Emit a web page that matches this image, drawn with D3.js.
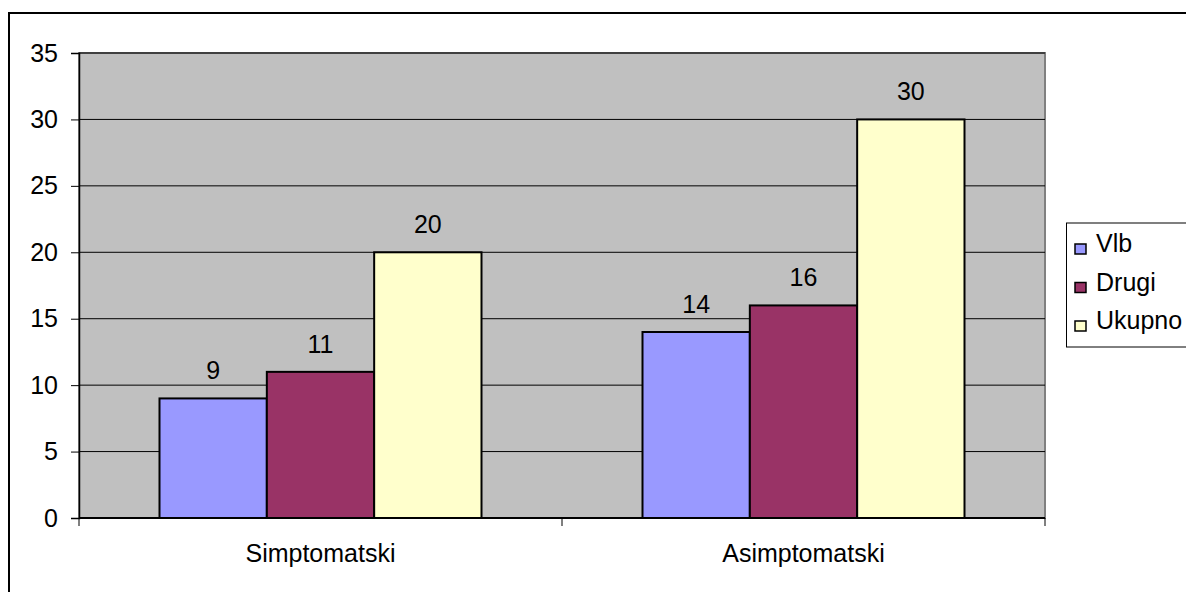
<!DOCTYPE html>
<html><head><meta charset="utf-8">
<script src="https://cdn.jsdelivr.net/npm/d3@7"></script>
<style>body{margin:0;background:#fff;} svg{display:block;} text{font-family:"Liberation Sans",Arial,sans-serif;fill:#000;}</style>
</head><body>
<svg id="c" width="1186" height="592"></svg>
<script>
const categories = ["Simptomatski", "Asimptomatski"];
const seriesNames = ["Vlb", "Drugi", "Ukupno"];
const seriesColors = ["#9999FF", "#993366", "#FFFFCC"];
const vlb = [9, 14];
const drugi = [11, 16];
const ukupno = [20, 30];
const yTicks = [0, 5, 10, 15, 20, 25, 30, 35];

const seriesValues = [vlb, drugi, ukupno];
const svg = d3.select("#c");
const fs = 25;

// outer border
svg.append("rect").attr("x", 9).attr("y", 13).attr("width", 1250).attr("height", 650)
  .attr("fill", "#fff").attr("stroke", "#000").attr("stroke-width", 2);

const pL = 79, pR = 1045, pT = 53, pB = 518;
const x0 = d3.scaleBand().domain(categories).range([pL, pR]).paddingInner(0).paddingOuter(0);
const x1 = d3.scaleBand().domain(seriesNames).range([0, x0.bandwidth()]).paddingInner(0).paddingOuter(0.75);
const y = d3.scaleLinear().domain([0, 35]).range([pB, pT]);

// plot background
svg.append("rect").attr("x", pL).attr("y", pT).attr("width", pR - pL).attr("height", pB - pT)
  .attr("fill", "#C0C0C0").attr("stroke", "#808080").attr("stroke-width", 2);

// gridlines
svg.append("g").selectAll("line").data(yTicks.filter(d => d > 0)).join("line")
  .attr("x1", pL).attr("x2", pR).attr("y1", d => y(d)).attr("y2", d => y(d))
  .attr("stroke", "#000").attr("stroke-width", 1);

// bars
const groups = svg.append("g").selectAll("g").data(categories).join("g")
  .attr("transform", c => `translate(${x0(c)},0)`);
groups.each(function(c, ci) {
  const g = d3.select(this);
  seriesNames.forEach((s, si) => {
    const v = seriesValues[si][ci];
    g.append("rect").attr("x", x1(s)).attr("y", y(v)).attr("width", x1.bandwidth()).attr("height", y(0) - y(v))
      .attr("fill", seriesColors[si]).attr("stroke", "#000").attr("stroke-width", 2);
    g.append("text").attr("x", x1(s) + x1.bandwidth() / 2).attr("y", y(v) - 19)
      .attr("text-anchor", "middle").attr("font-size", fs).text(v);
  });
});

// y axis
const yAxis = d3.axisLeft(y).tickValues(yTicks).tickSize(8).tickPadding(13).tickFormat(d3.format("d"));
const ya = svg.append("g").attr("transform", `translate(${pL},0)`).call(yAxis);
ya.select(".domain").attr("stroke", "#000").attr("stroke-width", 1.5);
ya.selectAll(".tick line").attr("stroke", "#000");
ya.selectAll(".tick text").attr("font-size", fs).attr("font-family", "Liberation Sans, Arial, sans-serif").attr("fill", "#000");

// x axis
svg.append("line").attr("x1", pL).attr("x2", pR).attr("y1", pB).attr("y2", pB)
  .attr("stroke", "#000").attr("stroke-width", 2);
const bounds = [pL].concat(categories.map(c => x0(c) + x0.bandwidth()));
svg.append("g").selectAll("line").data(bounds).join("line")
  .attr("x1", d => d).attr("x2", d => d).attr("y1", pB).attr("y2", pB + 8)
  .attr("stroke", "#000").attr("stroke-width", 1);
svg.append("g").selectAll("text").data(categories).join("text")
  .attr("x", c => x0(c) + x0.bandwidth() / 2).attr("y", 562)
  .attr("text-anchor", "middle").attr("font-size", fs).text(c => c);

// legend
const lg = svg.append("g");
lg.append("rect").attr("x", 1066.5).attr("y", 223).attr("width", 200).attr("height", 124)
  .attr("fill", "#fff").attr("stroke", "#000").attr("stroke-width", 1);
seriesNames.forEach((s, i) => {
  const cy = 249 + i * 38.5;
  lg.append("rect").attr("x", 1075).attr("y", cy - 5).attr("width", 11).attr("height", 10)
    .attr("fill", seriesColors[i]).attr("stroke", "#000").attr("stroke-width", 1.5);
  lg.append("text").attr("x", 1096).attr("y", cy + 3).attr("font-size", fs).text(s);
});
</script>
</body></html>
